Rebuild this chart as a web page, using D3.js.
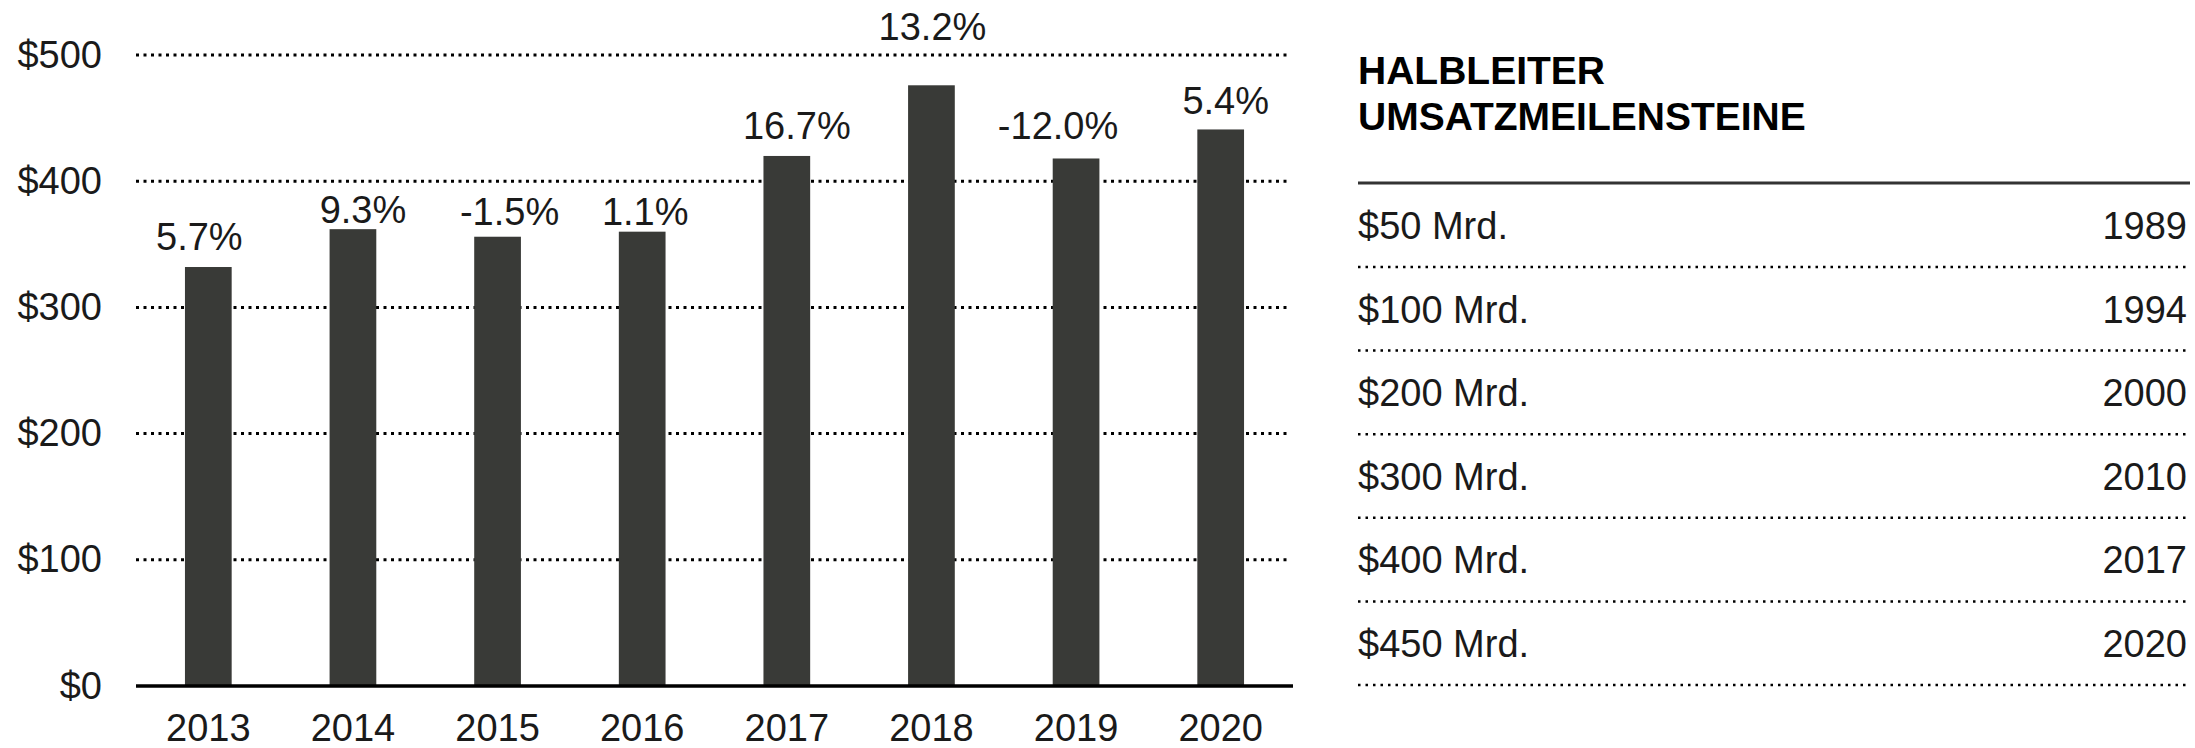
<!DOCTYPE html>
<html>
<head>
<meta charset="UTF-8">
<title>Halbleiter Umsatz</title>
<script src="https://d3js.org/d3.v7.min.js"></script>
<style>
    body { margin: 0; background: #fff; }
    svg { display: block; font-family: "Liberation Sans", Arial, sans-serif; }
</style>
</head>
<body>
<svg width="2195" height="748"></svg>
<script>
    // data
    var years = ['2013', '2014', '2015', '2016', '2017', '2018', '2019', '2020'];
    var revenue = [332, 362, 356, 360, 420, 476, 418, 441];
    var growth = ['5.7%', '9.3%', '-1.5%', '1.1%', '16.7%', '13.2%', '-12.0%', '5.4%'];
    var yTicks = [0, 100, 200, 300, 400, 500];
    var tableTitle = ['HALBLEITER', 'UMSATZMEILENSTEINE'];
    var milestones = ['$50 Mrd.', '$100 Mrd.', '$200 Mrd.', '$300 Mrd.', '$400 Mrd.', '$450 Mrd.'];
    var milestoneYears = ['1989', '1994', '2000', '2010', '2017', '2020'];

    // label nudges (placed by hand in the original)
    var labelLift = [17, 6, 12, 7, 17, 45, 19, 15];
    var labelShift = [-9, 10, 12, 3, 10, 1, -18, 5];

    var barColor = '#393a37';
    var fontSize = '38px';
    var svg = d3.select('svg');
    var plot = { left: 136, right: 1293, top: 55, bottom: 686 };

    var x = d3.scaleBand()
        .domain(years)
        .range([plot.left, plot.right]);
    var barW = x.bandwidth() * 0.323;

    var y = d3.scaleLinear()
        .domain([0, 500])
        .range([plot.bottom, plot.top]);

    // dotted gridlines
    svg.append('g')
        .selectAll('line')
        .data(yTicks.filter(function(d) { return d > 0; }))
        .enter().append('line')
        .attr('x1', plot.left)
        .attr('x2', plot.right - 3)
        .attr('y1', function(d) { return y(d); })
        .attr('y2', function(d) { return y(d); })
        .attr('stroke', '#000')
        .attr('stroke-width', 3)
        .attr('stroke-dasharray', '3,4.5');

    // y axis
    var yAxis = d3.axisLeft(y)
        .tickValues(yTicks)
        .tickSize(0)
        .tickPadding(34)
        .tickFormat(function(d) { return '$' + d; });
    var gy = svg.append('g')
        .attr('transform', 'translate(' + plot.left + ',0)')
        .call(yAxis);
    gy.select('.domain').remove();
    gy.selectAll('text')
        .attr('font-size', fontSize)
        .attr('font-family', '"Liberation Sans", Arial, sans-serif')
        .attr('fill', '#1a1a1a');

    // bars
    svg.append('g')
        .selectAll('rect')
        .data(revenue)
        .enter().append('rect')
        .attr('x', function(d, i) { return x(years[i]) + x.bandwidth() / 2 - barW / 2; })
        .attr('y', function(d) { return y(d); })
        .attr('width', barW)
        .attr('height', function(d) { return y(0) - y(d); })
        .attr('fill', barColor);

    // growth labels
    svg.append('g')
        .selectAll('text')
        .data(revenue)
        .enter().append('text')
        .attr('x', function(d, i) { return x(years[i]) + x.bandwidth() / 2 + labelShift[i]; })
        .attr('y', function(d, i) { return y(d) - labelLift[i]; })
        .attr('text-anchor', 'middle')
        .attr('font-size', fontSize)
        .attr('fill', '#1a1a1a')
        .text(function(d, i) { return growth[i]; });

    // x axis
    var xAxis = d3.axisBottom(x)
        .tickSize(0)
        .tickPadding(28);
    var gx = svg.append('g')
        .attr('transform', 'translate(0,' + plot.bottom + ')')
        .call(xAxis);
    gx.select('.domain').remove();
    gx.selectAll('text')
        .attr('font-size', fontSize)
        .attr('font-family', '"Liberation Sans", Arial, sans-serif')
        .attr('fill', '#1a1a1a');

    // base line
    svg.append('line')
        .attr('x1', plot.left)
        .attr('x2', plot.right)
        .attr('y1', y(0))
        .attr('y2', y(0))
        .attr('stroke', '#000')
        .attr('stroke-width', 3.5);

    // milestone table
    var tbl = { left: 1358, right: 2190 };
    svg.append('g')
        .selectAll('text')
        .data(tableTitle)
        .enter().append('text')
        .attr('x', tbl.left)
        .attr('y', function(d, i) { return 84 + i * 46; })
        .attr('font-size', '39px')
        .attr('font-weight', 'bold')
        .attr('fill', '#000')
        .text(function(d) { return d; });

    svg.append('line')
        .attr('x1', tbl.left)
        .attr('x2', tbl.right)
        .attr('y1', 183)
        .attr('y2', 183)
        .attr('stroke', '#333')
        .attr('stroke-width', 3);

    var rowY = d3.scaleLinear()
        .domain([0, milestones.length - 1])
        .range([267, 685]);

    var rows = svg.append('g')
        .selectAll('g')
        .data(milestones)
        .enter().append('g')
        .attr('transform', function(d, i) { return 'translate(0,' + rowY(i) + ')'; });

    rows.append('text')
        .attr('x', tbl.left)
        .attr('y', -28)
        .attr('font-size', fontSize)
        .attr('fill', '#1a1a1a')
        .text(function(d) { return d; });

    rows.append('text')
        .attr('x', tbl.right - 3)
        .attr('y', -28)
        .attr('text-anchor', 'end')
        .attr('font-size', fontSize)
        .attr('fill', '#1a1a1a')
        .text(function(d, i) { return milestoneYears[i]; });

    rows.append('line')
        .attr('x1', tbl.left)
        .attr('x2', tbl.right)
        .attr('stroke', '#000')
        .attr('stroke-width', 2.5)
        .attr('stroke-dasharray', '2.5,5');
</script>
</body>
</html>
